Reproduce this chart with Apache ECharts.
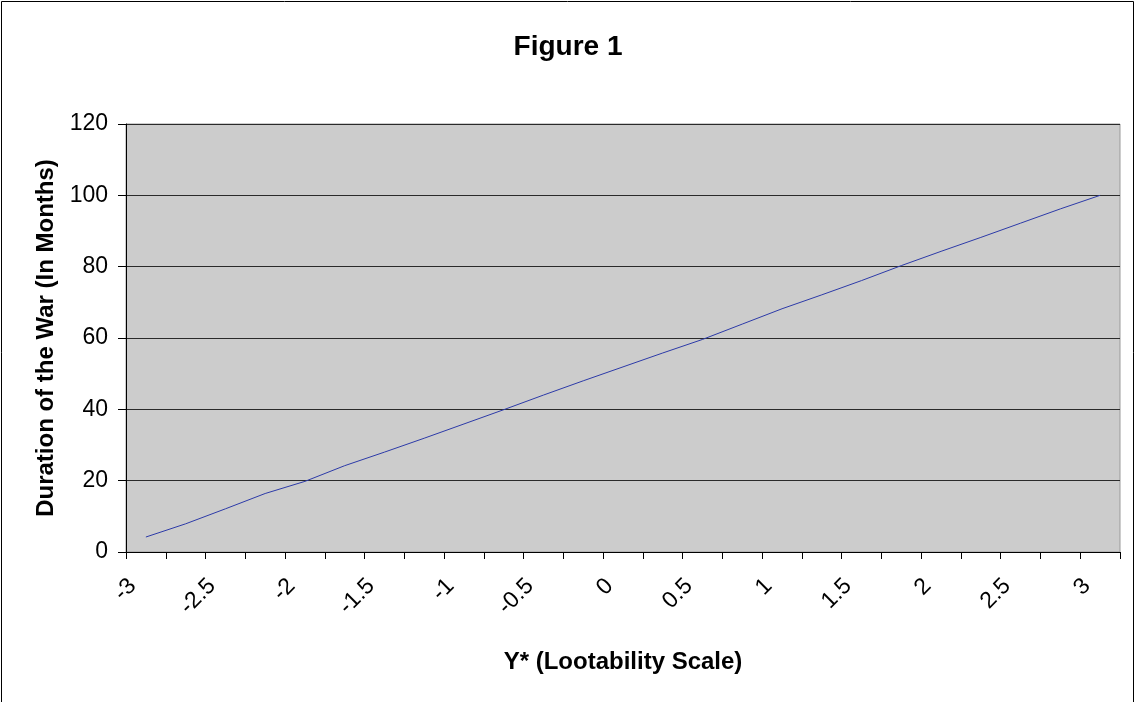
<!DOCTYPE html>
<html>
<head>
<meta charset="utf-8">
<script src="https://cdn.jsdelivr.net/npm/echarts@6/dist/echarts.min.js"></script>
<style>
html,body{margin:0;padding:0;background:#fff;}
#chart{width:1136px;height:702px;}
</style>
</head>
<body>
<div id="chart"></div>
<script>
// Category labels (Y*, lootability scale) — every 0.25, labels shown every other
const categories = ['-3','-2.75','-2.5','-2.25','-2','-1.75','-1.5','-1.25','-1','-0.75','-0.5','-0.25','0','0.25','0.5','0.75','1','1.25','1.5','1.75','2','2.25','2.5','2.75','3'];
// Duration of the war (months)
const duration = [4.2, 7.9, 12.1, 16.4, 19.8, 24.2, 28.0, 31.9, 35.9, 39.9, 44.0, 48.0, 51.9, 55.8, 59.6, 63.9, 68.2, 72.1, 76.1, 80.3, 84.3, 88.2, 92.2, 96.2, 100];
const yTicks = [0, 20, 40, 60, 80, 100, 120];

const FONT = '"Liberation Sans", Arial, sans-serif';
const chart = echarts.init(document.getElementById('chart'), null, {renderer: 'canvas'});
chart.setOption({
  animation: false,
  backgroundColor: '#ffffff',
  title: {
    text: 'Figure 1',
    left: 'center',
    top: 28,
    textStyle: {fontFamily: FONT, fontSize: 28, fontWeight: 'bold', color: '#000'}
  },
  graphic: [{
    type: 'rect',
    shape: {x: 1.5, y: 1.5, width: 1132, height: 720},
    style: {fill: 'none', stroke: '#000', lineWidth: 1},
    silent: true, z: 100
  }],
  grid: {
    left: 126, top: 124, right: 16, bottom: 150,
    show: true, backgroundColor: '#CCCCCC', borderColor: '#9a9a9a', borderWidth: 1
  },
  xAxis: {
    type: 'category',
    data: categories,
    boundaryGap: true,
    name: 'Y* (Lootability Scale)',
    nameLocation: 'middle',
    nameGap: 98,
    nameTextStyle: {fontFamily: FONT, fontSize: 24, fontWeight: 'bold', color: '#000'},
    axisLine: {show: true, onZero: false, lineStyle: {color: '#000', width: 1}},
    axisTick: {show: true, interval: 0, length: 7, lineStyle: {color: '#000'}},
    axisLabel: {interval: 1, rotate: 45, margin: 17, padding: [0, 19, 10, 0], fontFamily: FONT, fontSize: 23, color: '#000'},
    splitLine: {show: false}
  },
  yAxis: {
    type: 'value',
    min: yTicks[0], max: yTicks[yTicks.length - 1], interval: 20,
    name: 'Duration of the War (In Months)',
    nameLocation: 'middle',
    nameGap: 68,
    nameTextStyle: {fontFamily: FONT, fontSize: 24, fontWeight: 'bold', color: '#000'},
    axisLine: {show: true, lineStyle: {color: '#000', width: 1}},
    axisTick: {show: true, length: 8, lineStyle: {color: '#000'}},
    axisLabel: {margin: 18, fontFamily: FONT, fontSize: 23, color: '#000'},
    splitLine: {show: true, lineStyle: {color: '#2a2a2a', width: 1}}
  },
  series: [{
    type: 'line',
    data: duration,
    showSymbol: false,
    symbol: 'none',
    lineStyle: {color: '#2c3aa8', width: 1},
    z: 5
  }]
});
</script>
</body>
</html>
